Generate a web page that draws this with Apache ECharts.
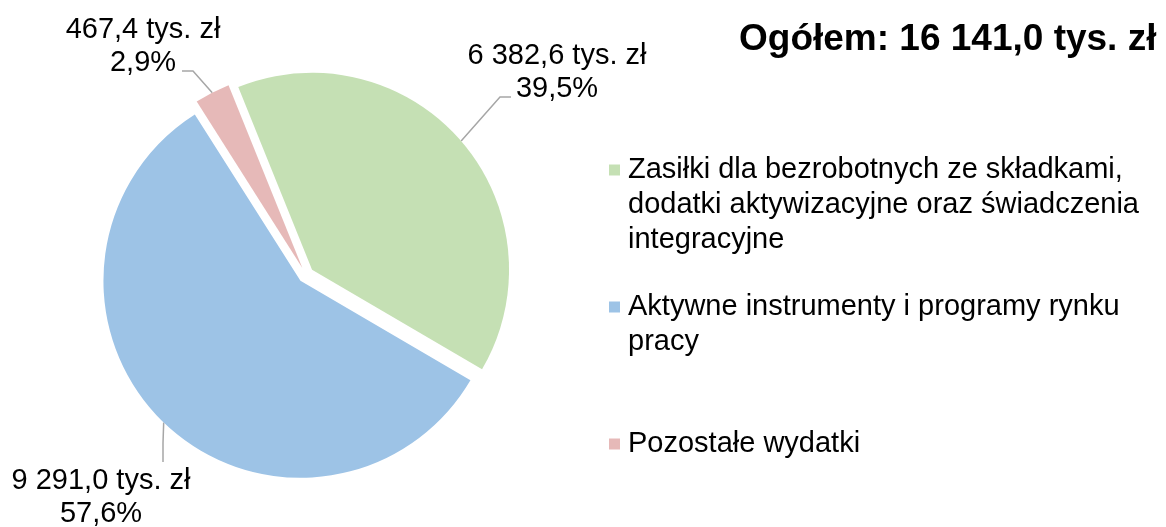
<!DOCTYPE html>
<html>
<head>
<meta charset="utf-8">
<script src="https://cdn.jsdelivr.net/npm/echarts@6/dist/echarts.min.js"></script>
<style>
  html, body { margin: 0; padding: 0; background: #fff; }
  #main { width: 1166px; height: 527px; }
</style>
</head>
<body>
<div id="main"></div>
<script>
// dane
var categories = [
  'Zasiłki dla bezrobotnych ze składkami, dodatki aktywizacyjne oraz świadczenia integracyjne',
  'Aktywne instrumenty i programy rynku pracy',
  'Pozostałe wydatki'
];
var legendLines = [
  ['Zasiłki dla bezrobotnych ze składkami,', 'dodatki aktywizacyjne oraz świadczenia', 'integracyjne'],
  ['Aktywne instrumenty i programy rynku', 'pracy', ''],
  ['Pozostałe wydatki']
];
var values = [6382.6, 9291.0, 467.4];
var colors = ['#C5E0B4', '#9DC3E6', '#E6B9B8'];

// geometria koła i etykiet
var center = [306, 275];
var radius = 197;
var offset = 8;
var startAngle = 112;
var labelPos = [[557, 72], [101, 497], [143, 46]];
var lineBends = [[[500, 97], [511, 97]], [[163, 443], [163, 462]], [[193, 71], [182, 71]]];

var total = values.reduce(function (a, b) { return a + b; }, 0);

function fmt(v) {
  var s = v.toFixed(1).split('.');
  return s[0].replace(/\B(?=(\d{3})+(?!\d))/g, ' ') + ',' + s[1];
}

// kierunek środka wycinka; etykieta i linia przesuwają się razem z wysuniętym wycinkiem
var dirs = [];
var acc = 0;
values.forEach(function (v) {
  var mid = (startAngle - (acc + v / 2) / total * 360) * Math.PI / 180;
  dirs.push([Math.cos(mid), -Math.sin(mid)]);
  acc += v;
});
function local(i, pt) {
  return [pt[0] - dirs[i][0] * offset, pt[1] - dirs[i][1] * offset];
}

var font = 'Liberation Sans, Arial, sans-serif';
var L = 35;

var rich = {
  t: { fontSize: 29, lineHeight: L, color: '#000', fontFamily: font },
  sp: { width: 19, height: 11, lineHeight: L }
};
colors.forEach(function (c, i) {
  rich['sq' + i] = { width: 11, height: 11, lineHeight: L, backgroundColor: c };
  rich['g' + i] = { width: 8, height: 11, lineHeight: L };
});

var chart = echarts.init(document.getElementById('main'));
chart.setOption({
  animation: false,
  title: {
    text: 'Ogółem: ' + fmt(total) + ' tys. zł',
    left: 739,
    top: 21,
    padding: 0,
    textStyle: { fontSize: 37, fontWeight: 'bold', color: '#000', fontFamily: font }
  },
  legend: {
    orient: 'vertical',
    left: 604,
    top: 170 - L / 2,
    height: 500,
    padding: 0,
    itemWidth: 0,
    itemHeight: 0,
    itemGap: 32,
    icon: 'rect',
    selectedMode: false,
    data: categories,
    formatter: function (name) {
      var i = categories.indexOf(name);
      return legendLines[i].map(function (s, k) {
        var head = k === 0 ? '{sq' + i + '|}{g' + i + '|}' : '{sp|}';
        return head + '{t|' + (s || ' ') + '}';
      }).join('\n');
    },
    textStyle: { fontSize: 29, lineHeight: L, color: '#000', fontFamily: font, rich: rich }
  },
  series: [{
    type: 'pie',
    center: center,
    radius: radius,
    startAngle: startAngle,
    clockwise: true,
    selectedMode: 'multiple',
    selectedOffset: offset,
    avoidLabelOverlap: false,
    emphasis: { disabled: true },
    data: values.map(function (v, i) {
      return { name: categories[i], value: v, selected: true, itemStyle: { color: colors[i] } };
    }),
    label: {
      show: true,
      formatter: function (p) {
        return fmt(p.value) + ' tys. zł\n' + (p.value / total * 100).toFixed(1).replace('.', ',') + '%';
      },
      fontSize: 29,
      lineHeight: 33,
      color: '#000',
      fontFamily: font,
      align: 'center'
    },
    labelLine: {
      show: true,
      lineStyle: { color: '#A6A6A6', width: 1.5 }
    },
    labelLayout: function (p) {
      var i = p.dataIndex;
      var r = p.labelRect;
      var ax = p.align === 'left' ? r.x : p.align === 'right' ? r.x + r.width : r.x + r.width / 2;
      var ay = p.verticalAlign === 'top' ? r.y : p.verticalAlign === 'bottom' ? r.y + r.height : r.y + r.height / 2;
      var target = local(i, labelPos[i]);
      var edge = [center[0] + dirs[i][0] * radius, center[1] + dirs[i][1] * radius];
      return {
        align: 'center',
        verticalAlign: 'middle',
        dx: target[0] - ax,
        dy: target[1] - ay,
        labelLinePoints: [edge].concat(lineBends[i].map(function (pt) { return local(i, pt); }))
      };
    }
  }]
});
</script>
</body>
</html>
